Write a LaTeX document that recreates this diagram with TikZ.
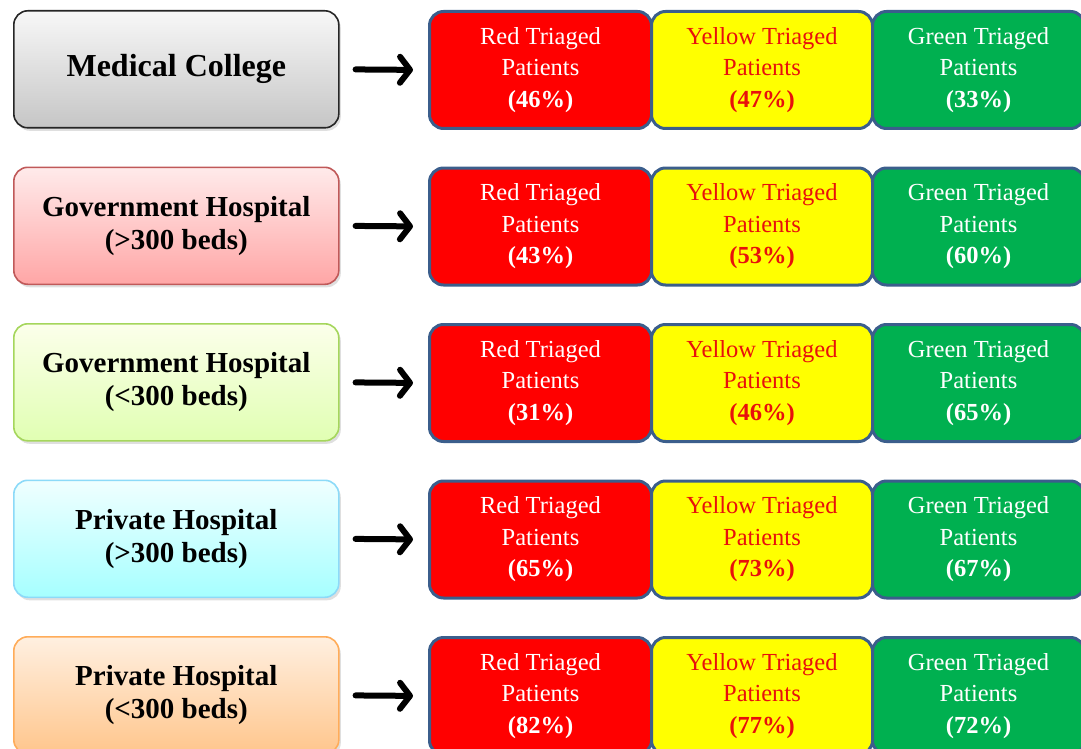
\documentclass[tikz,border=0pt]{standalone}
\usepackage{fontspec}
\setmainfont{Liberation Serif}
\usetikzlibrary{arrows.meta,shadows}
\definecolor{boxborder}{HTML}{3B5E8C}
\definecolor{tred}{HTML}{FF0000}
\definecolor{tyellow}{HTML}{FFFF00}
\definecolor{tgreen}{HTML}{00B050}
\definecolor{ytext}{HTML}{E8100C}
\tikzset{
  lbox/.style={rounded corners=14pt, line width=1.6pt, minimum width=325pt, minimum height=117pt,
    anchor=north west, inner sep=0pt, align=center,
    font=\fontsize{29}{33}\selectfont\bfseries,
    drop shadow={opacity=0.25, shadow xshift=2pt, shadow yshift=-3pt}},
  rbox/.style={rounded corners=14pt, line width=3pt, draw=boxborder, minimum height=117pt,
    anchor=north west, inner sep=0pt, align=center,
    font=\fontsize{24.5}{31.5}\selectfont},
  redbox/.style={rbox, fill=tred, text=white, minimum width=222pt},
  yelbox/.style={rbox, fill=tyellow, text=ytext, minimum width=221pt},
  grnbox/.style={rbox, fill=tgreen, text=white, minimum width=212pt},
  arr/.style={line width=6pt, line cap=round, -{Straight Barb[length=10pt,width=26pt,round]}, shorten <=16pt, shorten >=15pt}
}
\begin{document}
\begin{tikzpicture}[x=1pt,y=-1pt]
\useasboundingbox (0,0) rectangle (1081,749);
% left boxes
\node[lbox, draw=black!85, top color=white!94!gray, bottom color=gray!45, font=\fontsize{32}{36}\selectfont\bfseries] (L1) at (13,10) {\raisebox{-3pt}{Medical College}};
\node[lbox, draw=red!45!gray!90, top color=red!8, bottom color=red!35] (L2) at (13,166.5) {Government Hospital\\(>300 beds)};
\node[lbox, draw=green!40!yellow!60!gray!80, top color=green!15!yellow!8, bottom color=green!40!yellow!30] (L3) at (13,323) {Government Hospital\\(<300 beds)};
\node[lbox, draw=cyan!45, top color=cyan!6, bottom color=cyan!35] (L4) at (13,479.5) {Private Hospital\\(>300 beds)};
\node[lbox, draw=orange!65, top color=orange!12, bottom color=orange!45] (L5) at (13,636) {Private Hospital\\(<300 beds)};
% right boxes
\foreach \i/\y/\r/\yy/\g in {1/10/46/47/33, 2/166.5/43/53/60, 3/323/31/46/65, 4/479.5/65/73/67, 5/636/82/77/72}{
  \node[redbox] (R\i) at (428,\y) {Red Triaged\\Patients\\\textbf{(\r\%)}};
  \node[yelbox] (Y\i) at (650,\y) {Yellow Triaged\\Patients\\\textbf{(\yy\%)}};
  \node[grnbox] (G\i) at (871,\y) {Green Triaged\\Patients\\\textbf{(\g\%)}};
  \draw[arr] (L\i.east) -- (R\i.west);
}
\end{tikzpicture}
\end{document}
